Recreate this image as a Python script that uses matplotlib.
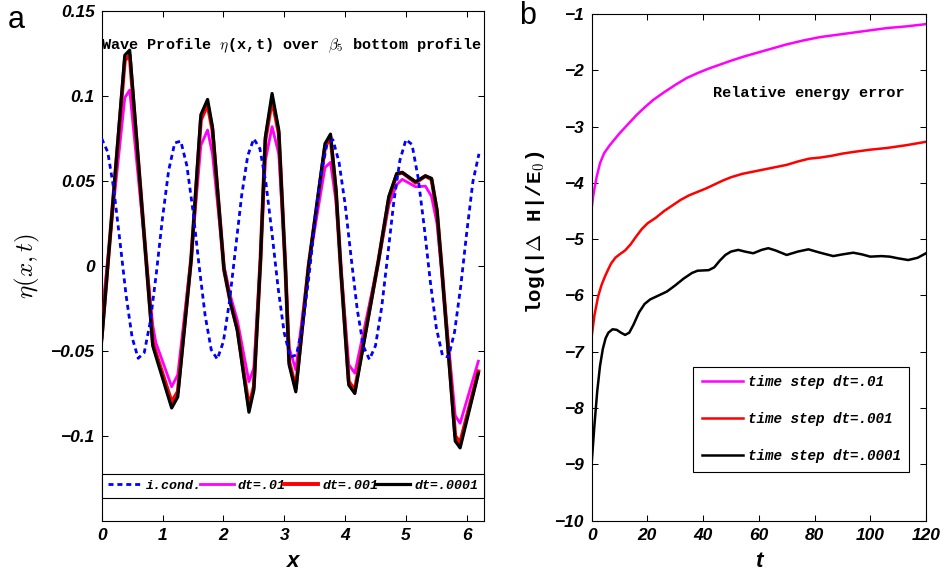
import numpy as np
import matplotlib
matplotlib.use("Agg")
import matplotlib.pyplot as plt
from matplotlib.font_manager import FontProperties

plt.rcParams['font.family'] = 'Liberation Sans'
plt.rcParams['mathtext.fontset'] = 'cm'

# ---- panel a: wave profile ----
x_ic = np.arange(0, 6.25, 0.1)
eta_ic = [0.075, 0.067, 0.045, 0.0146, -0.017, -0.042, -0.0543, -0.0509, -0.0325, -0.0037,
          0.0284, 0.0561, 0.0724, 0.0735, 0.059, 0.0325, 0.0005, -0.0291, -0.0492, -0.0548,
          -0.0445, -0.0209, 0.0103, 0.0414, 0.0649, 0.0749, 0.069, 0.0487, 0.0189, -0.0131,
          -0.0394, -0.0536, -0.0523, -0.0357, -0.0079, 0.0243, 0.0529, 0.0712, 0.0743, 0.0612,
          0.0365, 0.0048, -0.0256, -0.0472, -0.055, -0.0468, -0.0246, 0.006, 0.0376, 0.0621,
          0.0744, 0.0715, 0.052, 0.0231, -0.009, -0.0365, -0.0526, -0.0536, -0.0386, -0.012,
          0.02, 0.0496, 0.066]

x_sol = [0, 0.38, 0.46, 0.84, 0.89, 1.15, 1.25, 1.47, 1.63, 1.74, 1.82, 2.01, 2.12, 2.23,
         2.42, 2.50, 2.61, 2.69, 2.80, 2.91, 3.02, 3.08, 3.19, 3.40, 3.67, 3.76, 3.85, 3.93,
         4.06, 4.16, 4.55, 4.72, 4.85, 4.94, 5.16, 5.32, 5.42, 5.51, 5.59, 5.81, 5.89, 6.19]
eta_dt01 = [-0.030, 0.099, 0.1035, -0.035, -0.045, -0.071, -0.064, 0.005, 0.071, 0.080, 0.066,
            0.0, -0.018, -0.032, -0.068, -0.060, 0.005, 0.062, 0.082, 0.066, 0.0, -0.048,
            -0.061, 0.0, 0.058, 0.061, 0.038, 0.0, -0.058, -0.063, 0.003, 0.036, 0.048, 0.051,
            0.0466, 0.047, 0.041, 0.025, -0.004, -0.088, -0.0925, -0.056]
eta_dt001 = [-0.042, 0.121, 0.124, -0.045, -0.051, -0.080, -0.074, 0.004, 0.086, 0.095, 0.080,
             -0.002, -0.022, -0.037, -0.083, -0.071, 0.004, 0.074, 0.098, 0.078, -0.002, -0.056,
             -0.072, 0.0, 0.070, 0.076, 0.044, -0.002, -0.068, -0.073, 0.0035, 0.040, 0.054,
             0.055, 0.049, 0.053, 0.051, 0.032, -0.002, -0.100, -0.104, -0.062]
eta_dt0001 = [-0.044, 0.124, 0.127, -0.047, -0.053, -0.0835, -0.077, 0.0035, 0.089, 0.098, 0.082,
              -0.002, -0.022, -0.038, -0.086, -0.073, 0.0035, 0.076, 0.1015, 0.080, -0.002, -0.058,
              -0.074, 0.0, 0.072, 0.0776, 0.045, -0.002, -0.070, -0.075, 0.0035, 0.041, 0.0545,
              0.055, 0.0496, 0.053, 0.0516, 0.033, -0.002, -0.103, -0.107, -0.063]

left_yticks = [-0.1, -0.05, 0, 0.05, 0.1, 0.15]
left_yticklabels = ['\u22120.1', '\u22120.05', '0', '0.05', '0.1', '0.15']

# ---- panel b: relative energy error ----
t_01 = [0, 0.5, 1, 1.8, 3, 4.5, 6.5, 8.5, 10, 13, 16, 19, 22, 26, 30, 34, 38, 42, 46, 50,
        55, 60, 65, 70, 76, 82, 88, 94, 100, 106, 113, 120]
err_01 = [-4.45, -4.25, -4.10, -3.89, -3.65, -3.47, -3.33, -3.21, -3.12, -2.96, -2.80, -2.66,
          -2.53, -2.39, -2.26, -2.14, -2.05, -1.97, -1.90, -1.83, -1.75, -1.68, -1.61, -1.54,
          -1.47, -1.41, -1.37, -1.33, -1.29, -1.25, -1.22, -1.18]
t_001 = [0, 1, 2.3, 3.5, 4.7, 6, 7, 8.5, 10, 12, 14, 16, 18, 20, 23, 26, 29, 32, 35, 38, 41,
         44, 47, 50, 54, 58, 62, 66, 70, 74, 78, 82, 86, 90, 94, 100, 106, 113, 120]
err_001 = [-6.73, -6.35, -6.02, -5.82, -5.67, -5.53, -5.43, -5.33, -5.27, -5.20, -5.09, -4.95,
           -4.82, -4.72, -4.62, -4.50, -4.40, -4.30, -4.22, -4.16, -4.10, -4.03, -3.96, -3.90,
           -3.84, -3.80, -3.76, -3.72, -3.68, -3.62, -3.57, -3.55, -3.52, -3.48, -3.45, -3.41,
           -3.38, -3.33, -3.27]
t_0001 = [0, 1, 2, 3, 4, 5, 6, 7.5, 9, 10.5, 12, 13.5, 15, 17, 19, 21, 24, 27, 30, 33, 36, 38,
          42, 44, 46, 48, 50, 52.6, 55, 58, 61, 63.4, 66, 70, 74, 77.8, 82, 86.7, 90, 93.9, 97,
          100, 104, 107, 110, 113.6, 117, 120]
err_0001 = [-8.98, -8.30, -7.70, -7.25, -6.95, -6.76, -6.66, -6.60, -6.61, -6.66, -6.70, -6.66,
            -6.52, -6.30, -6.15, -6.07, -6.00, -5.93, -5.82, -5.70, -5.60, -5.56, -5.55, -5.50,
            -5.38, -5.28, -5.22, -5.19, -5.22, -5.25, -5.19, -5.16, -5.20, -5.28, -5.22, -5.18,
            -5.24, -5.30, -5.27, -5.24, -5.27, -5.31, -5.30, -5.31, -5.34, -5.37, -5.33, -5.25]

mono_bold = dict(family='Liberation Mono', weight='bold')
tick_font = dict(family='Liberation Sans', weight='bold', style='italic', size=12.5)


def style_axes(ax):
    ax.tick_params(direction='in', top=True, right=True, length=4, width=0.75, pad=5)
    for s in ax.spines.values():
        s.set_linewidth(0.8)
    for lbl in ax.get_xticklabels() + ax.get_yticklabels():
        lbl.set_fontproperties(FontProperties(**tick_font))


fig = plt.figure(figsize=(9.45, 5.71), dpi=100)

ax1 = fig.add_axes([0.1076, 0.0876, 0.4046, 0.893])
ax1.plot(x_sol, eta_dt01, color='#ff00ff', lw=2.0, label='dt=.01', zorder=2)
ax1.plot(x_sol, eta_dt001, color='#ff0000', lw=2.8, label='dt=.001', zorder=3)
ax1.plot(x_sol, eta_dt0001, color='black', lw=2.3, label='dt=.0001', zorder=4)
ic_line, = ax1.plot(x_ic, eta_ic, color='#0000ff', lw=2.0, ls=(0, (1.8, 1.4)),
                    label='i.cond.', zorder=5)
ax1.set_xlim(0, 2 * np.pi)
ax1.set_ylim(-0.15, 0.15)
ax1.set_xticks(range(7))
ax1.set_yticks(left_yticks)
ax1.set_yticklabels(left_yticklabels)
style_axes(ax1)
ax1.set_xlabel('x', fontsize=16, fontweight='bold', fontstyle='italic', labelpad=6)
ax1.set_ylabel(r'$\eta(x,t)$', fontsize=18)
ax1.yaxis.set_label_coords(-0.156, 0.5)
ax1.text(-0.003, 0.931, r'Wave Profile $\eta$(x,t) over $\beta_5$ bottom profile',
         transform=ax1.transAxes, ha='left', va='center', fontsize=11, **mono_bold)
h, l = ax1.get_legend_handles_labels()
order = [3, 0, 1, 2]
leg1 = ax1.legend([h[i] for i in order], [l[i] for i in order],
                  loc='lower left', bbox_to_anchor=(0, 0.0457, 1, 0.051), mode='expand',
                  ncol=4, prop=FontProperties(family='Liberation Mono', weight='bold',
                                              style='italic', size=9.5),
                  handlelength=2.6, handletextpad=0.3, columnspacing=0.2, borderpad=0.45,
                  borderaxespad=0, fancybox=False, edgecolor='black', framealpha=1)
leg1.get_frame().set_linewidth(0.8)

ax2 = fig.add_axes([0.6261, 0.0881, 0.3538, 0.8874])
ax2.plot(t_01, err_01, color='#ff00ff', lw=1.8, label='time step dt=.01')
ax2.plot(t_001, err_001, color='#ff0000', lw=1.8, label='time step dt=.001')
ax2.plot(t_0001, err_0001, color='black', lw=1.8, label='time step dt=.0001')
ax2.set_xlim(0, 120)
ax2.set_ylim(-10, -1)
ax2.set_xticks(range(0, 121, 20))
ax2.set_yticks(range(-10, 0))
style_axes(ax2)
ax2.set_xlabel('t', fontsize=16, fontweight='bold', fontstyle='italic', labelpad=6)
ax2.set_ylabel(r'log(|$\Delta$ H|/E$_0$)', fontsize=15, **mono_bold)
ax2.yaxis.set_label_coords(-0.134, 0.57)
ax2.text(0.362, 0.844, 'Relative energy error', transform=ax2.transAxes,
         ha='left', va='center', fontsize=11, **mono_bold)
leg2 = ax2.legend(loc='upper left', bbox_to_anchor=(0.303, 0.304),
                  prop=FontProperties(family='Liberation Mono', weight='bold',
                                      style='italic', size=10.3),
                  handlelength=2.87, handletextpad=0.37, labelspacing=1.6, borderpad=0.6,
                  borderaxespad=0, fancybox=False, edgecolor='black', framealpha=1)
leg2.get_frame().set_linewidth(0.8)

fig.text(16 / 945, 1 - 20 / 571, 'a', fontsize=22, ha='center', va='center')
fig.text(528 / 945, 1 - 16 / 571, 'b', fontsize=22, ha='center', va='center')

fig.savefig('out.png', dpi=100)
